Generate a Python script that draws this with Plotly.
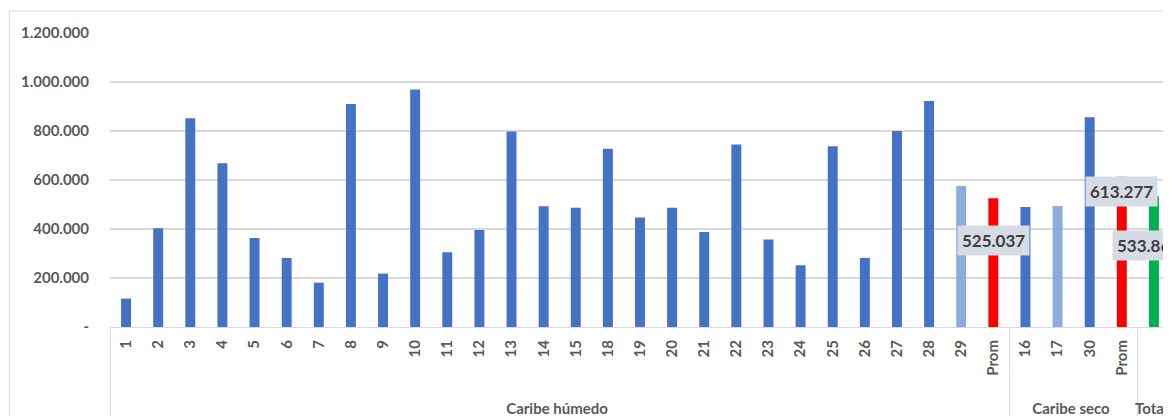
import plotly.graph_objects as go

groups = ["Caribe húmedo"] * 28 + ["Caribe seco"] * 4 + ["Total"]
categories = ["1", "2", "3", "4", "5", "6", "7", "8", "9", "10", "11", "12", "13", "14", "15",
              "18", "19", "20", "21", "22", "23", "24", "25", "26", "27", "28", "29", "Prom",
              "16", "17", "30", "Prom\u200b", " "]
values = [116000, 403000, 852000, 668000, 363000, 282000, 181000, 910000, 218000, 969000,
          305000, 396000, 798000, 493000, 487000,
          728000, 447000, 487000, 388000, 745000, 357000, 252000, 738000, 282000, 800000,
          922000, 576000, 525037,
          490000, 494000, 856000, 613277, 533860]
y_tickvals = [0, 200000, 400000, 600000, 800000, 1000000, 1200000]
y_ticktext = ["-", "200.000", "400.000", "600.000", "800.000", "1.000.000", "1.200.000"]
label_idx = [27, 31, 32]
label_text = ["525.037", "613.277", "533.860"]

BLUE, LIGHT, RED, GREEN = "#4472C4", "#8FAADC", "#FF0000", "#00B050"
colors = [BLUE] * 26 + [LIGHT, RED] + [BLUE, LIGHT, BLUE, RED] + [GREEN]

# leading non-breaking spaces only widen the rotated label box (lower end),
# pushing the group labels further down like in the reference
tick_labels = [("\u00a0" * 4 + c) if c.startswith("Prom") else c for c in categories]

fig = go.Figure()
fig.add_trace(go.Bar(
    x=[groups, tick_labels], y=values,
    marker=dict(color=colors, line=dict(width=0)),
    hoverinfo="skip",
))

label_shift = [(0, -42), (0, -15), (-5, -49)]
for i, t, (dx, dy) in zip(label_idx, label_text, label_shift):
    fig.add_annotation(
        x=i, y=values[i], xref="x", yref="y", text=t, showarrow=False,
        xshift=dx, yshift=dy, bgcolor="#D6DCE5", borderpad=4,
        font=dict(family="Lato", size=17, color="#404040", weight="bold"),
    )

fig.add_shape(type="rect", xref="paper", yref="paper",
              x0=-0.095, x1=1.05, y0=-0.6, y1=1.0748,
              line=dict(color="#D9D9D9", width=1), fillcolor="rgba(0,0,0,0)", layer="below")

fig.update_layout(
    width=1163, height=408,
    margin=dict(l=102, r=1, t=25, b=89, autoexpand=False),
    paper_bgcolor="white", plot_bgcolor="white",
    bargap=0.69, showlegend=False,
    font=dict(family="Lato", color="#595959"),
    xaxis=dict(
        type="multicategory", range=[-0.5, 32.5], automargin=False,
        tickangle=-90, tickfont=dict(family="Lato", size=15, color="#595959", weight="bold"),
        showline=True, linecolor="#D9D9D9", linewidth=1,
        showgrid=False, ticks="", showdividers=True, dividercolor="#D9D9D9", dividerwidth=1,
        ticklabelstandoff=6,
    ),
    yaxis=dict(
        range=[0, 1200000], tickvals=y_tickvals, ticktext=y_ticktext, automargin=False,
        tickfont=dict(family="Lato", size=15, color="#595959", weight="bold"),
        showgrid=True, gridcolor="#D9D9D9", gridwidth=1.5, zeroline=False,
        showline=False, ticks="outside", ticklen=17, tickcolor="rgba(0,0,0,0)",
    ),
)

fig.write_html("out.html")
